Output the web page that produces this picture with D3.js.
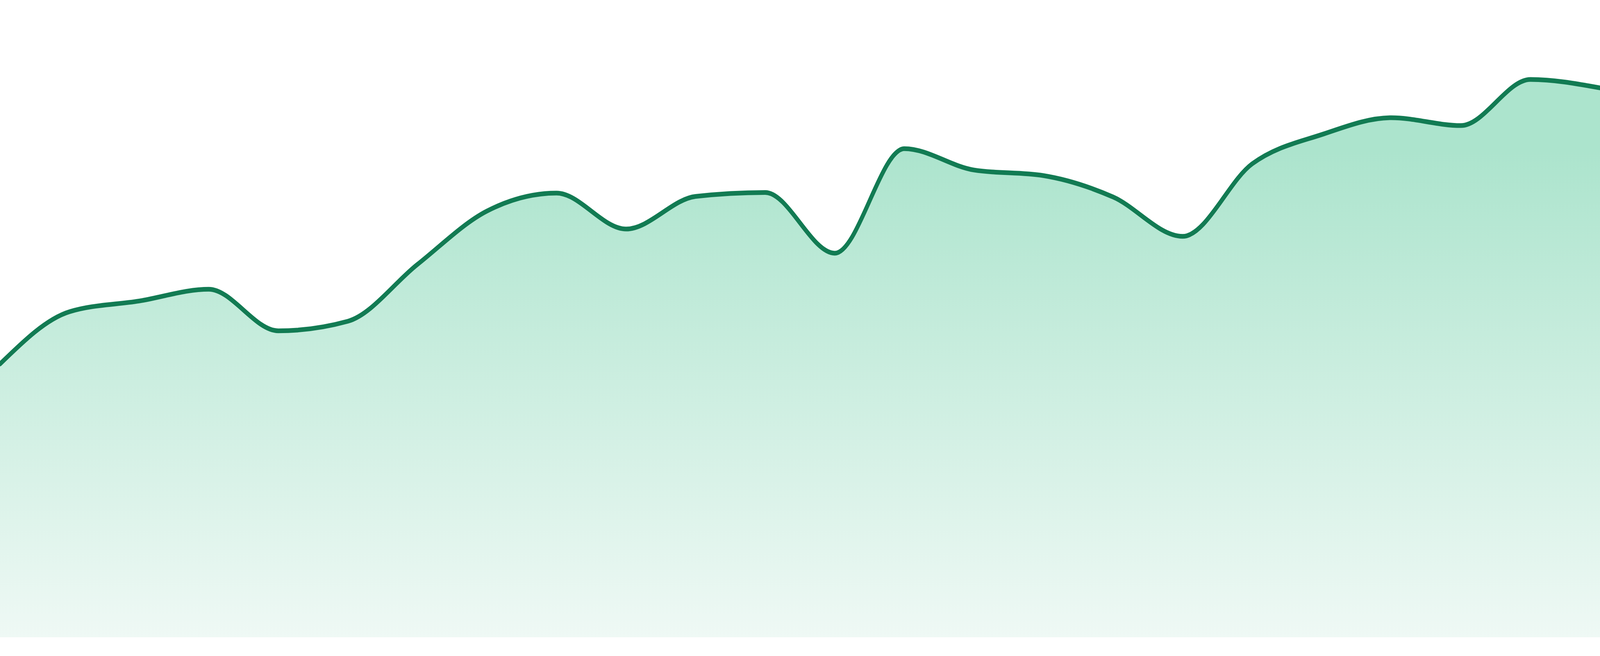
<!DOCTYPE html>
<html>
<head>
<meta charset="utf-8">
<script src="https://cdn.jsdelivr.net/npm/d3@7"></script>
<style>
  html, body { margin: 0; padding: 0; background: #ffffff; overflow: hidden; }
  #dataviz { width: 100vw; height: 100vh; }
  #dataviz svg { display: block; width: 100%; height: 100%; }
</style>
</head>
<body>
<div id="dataviz"></div>
<script>
// categories (one per sample) and the series values
var days = ["1", "2", "3", "4", "5", "6", "7", "8", "9", "10", "11", "12",
            "13", "14", "15", "16", "17", "18", "19", "20", "21", "22", "23", "24"];
var values = [48.6, 57.9, 59.8, 61.9, 54.5, 56.2, 66.3, 75.8, 79.0, 72.6, 78.4, 79.1,
              68.3, 86.9, 83.1, 82.1, 78.3, 71.3, 84.2, 89.4, 92.4, 91.0, 99.2, 97.7];
var yDomain = [0, 100];

function drawData() {
    var margin = { top: 192, right: 0, bottom: 48, left: 0 },
        width = 4800 - margin.left - margin.right,
        height = 1680 - margin.top - margin.bottom;

    var data = days.map(function (d, i) { return { day: d, value: values[i] }; });

    // drawn in a 4800x1680 coordinate space, stretched to whatever the window is
    var svg = d3.select("#dataviz")
        .append("svg")
        .attr("viewBox", "0 0 4800 1680")
        .attr("preserveAspectRatio", "none");

    // soft green fade under the line
    var grad = svg.append("defs")
        .append("linearGradient")
        .attr("id", "fillGrad")
        .attr("gradientUnits", "userSpaceOnUse")
        .attr("x1", 0).attr("x2", 0)
        .attr("y1", margin.top).attr("y2", margin.top + height);
    grad.append("stop").attr("offset", "0%").attr("stop-color", "#ace4cd");
    grad.append("stop").attr("offset", "100%").attr("stop-color", "#f9fcfb");

    var graph = svg.append("g")
        .attr("transform", "translate(" + margin.left + "," + margin.top + ")");

    var x = d3.scalePoint()
        .domain(days)
        .range([0, width]);

    var y = d3.scaleLinear()
        .domain(yDomain)
        .range([height, 0]);

    var area = d3.area()
        .curve(d3.curveMonotoneX)
        .x(function (d) { return x(d.day); })
        .y0(height)
        .y1(function (d) { return y(d.value); });

    var line = d3.line()
        .curve(d3.curveMonotoneX)
        .x(function (d) { return x(d.day); })
        .y(function (d) { return y(d.value); });

    graph.append("path")
        .datum(data)
        .attr("d", area)
        .attr("fill", "url(#fillGrad)");

    graph.append("path")
        .datum(data)
        .attr("d", line)
        .attr("fill", "none")
        .attr("stroke", "#127b53")
        .attr("stroke-width", 12)
        .attr("stroke-linejoin", "round")
        .attr("stroke-linecap", "round");
}

drawData();
</script>
</body>
</html>
